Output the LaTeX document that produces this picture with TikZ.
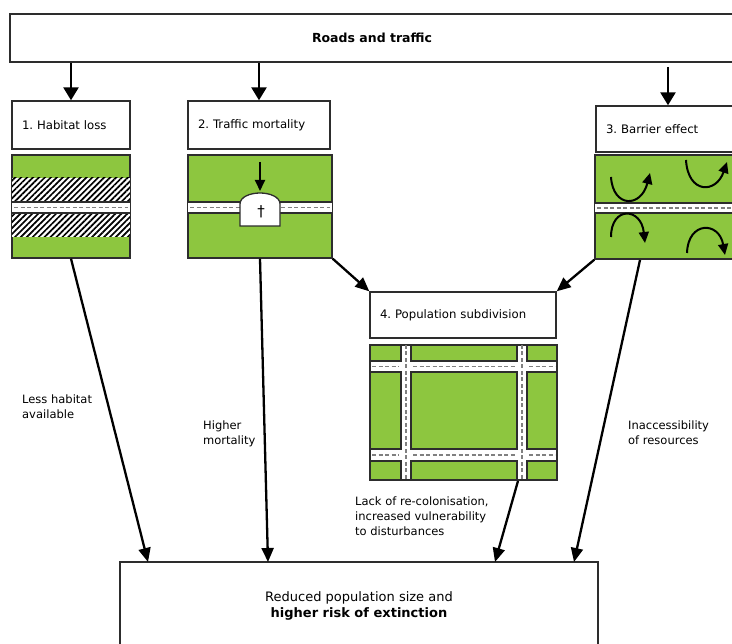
\documentclass[tikz,border=0pt]{standalone}
\usepackage{fontspec}
\setmainfont{DejaVu Sans}
\usetikzlibrary{arrows.meta,patterns.meta,positioning}
\frenchspacing

\definecolor{grass}{RGB}{141,198,63}
\definecolor{edge}{RGB}{45,45,45}

\tikzset{
  stage/.style={draw=edge, line width=1.4pt, fill=white, inner xsep=10pt, inner ysep=0pt,
    align=left, font=\fontsize{11.7}{14}\selectfont},
  panel/.style={draw=edge, line width=1.4pt, fill=grass, inner sep=0pt},
  frame/.style={draw=edge, line width=1.4pt},
  roadedge/.style={draw=edge, line width=1.3pt},
  midline/.style={draw=gray, line width=1.6pt, dash pattern=on 4pt off 2.5pt},
  bigarrow/.style={line width=2.6pt, -{Triangle[width=15pt,length=13pt]}},
  longarrow/.style={line width=2.3pt, -{Triangle[width=12pt,length=14pt]}},
  turn/.style={line width=2pt, -{Triangle[width=10pt,length=11pt]}},
  note/.style={anchor=north west, inner sep=0pt, align=left, font=\fontsize{11.5}{14.8}\selectfont}
}

\begin{document}
\begin{tikzpicture}[x=1pt, y=-1pt]
    \useasboundingbox (0,0) rectangle (732,644);
    \clip (0,0) rectangle (732,644);

    % Top and bottom boxes
    \node[draw=edge, line width=1.4pt, minimum width=724pt, minimum height=48pt,
      font=\fontsize{12.5}{14}\selectfont\bfseries] (roads) at (372,38) {Roads and traffic};
    \node[draw=edge, line width=1.4pt, minimum width=478pt, minimum height=88pt, align=center,
      font=\fontsize{13}{15.5}\selectfont] (result) at (359,606)
      {Reduced population size and\\ \textbf{higher risk of extinction}};

    % Effect boxes
    \node[stage, text width=98pt, minimum height=48pt] (habitat) at (71,125) {1. Habitat loss};
    \node[stage, text width=122pt, minimum height=48pt] (mortality) at (259,125) {2. Traffic mortality};
    \node[stage, text width=124pt, minimum height=46pt] (barrier) at (668,129) {3. Barrier effect};
    \node[stage, text width=166pt, minimum height=46pt] (subdiv) at (463,315) {4. Population subdivision};

    % Panels
    \node[panel, minimum width=118pt, minimum height=103pt] (p1) at (71,206.5) {};
    \node[panel, minimum width=144pt, minimum height=103pt] (p2) at (260,206.5) {};
    \node[panel, minimum width=150pt, minimum height=104pt] (p3) at (670,207) {};
    \node[panel, minimum width=187pt, minimum height=135pt, fill=white] (p4) at (463.5,412.5) {};

    % Panel 1: habitat loss
    \fill[white] (12,178) rectangle (130,237);
    \fill[pattern={Lines[angle=45,distance=4.2pt,line width=1.7pt]}] (12,178) rectangle (130,202);
    \fill[pattern={Lines[angle=45,distance=4.2pt,line width=1.7pt]}] (12,213) rectangle (130,237);
    \fill[white] (12,202) rectangle (130,213);
    \draw[roadedge] (12,202) -- (130,202) (12,213) -- (130,213);
    \draw[midline] (14,207.5) -- (128,207.5);
    \draw[frame] (p1.north west) rectangle (p1.south east);

    % Panel 2: traffic mortality
    \fill[white] (188,202) rectangle (332,213);
    \draw[roadedge] (188,202) -- (332,202) (188,213) -- (332,213);
    \draw[midline] (190,207.5) -- (330,207.5);
    \draw[roadedge, fill=white] (240,226) -- (240,204) .. controls (240,197) and (250,193) .. (260,193)
      .. controls (270,193) and (280,197) .. (280,204) -- (280,226) -- cycle;
    \node[font=\fontsize{15}{15}\selectfont, inner sep=0pt] (cross) at (261,212) {†};
    \coordinate (drop) at (260,162);
    \coordinate (tomb) at (260,191);
    \draw[turn, line width=1.8pt] (drop) -- (tomb);
    \draw[frame] (p2.north west) rectangle (p2.south east);

    % Panel 3: barrier effect
    \fill[white] (595,203) rectangle (745,213);
    \draw[roadedge] (595,203) -- (745,203) (595,213) -- (745,213);
    \draw[midline] (597,208) -- (745,208);
    \draw[turn] (611,177) .. controls (613,208) and (641,208) .. (650,173);
    \draw[turn] (686,160) .. controls (688,194) and (716,194) .. (727,162);
    \draw[turn] (611,237) .. controls (611,206) and (641,207) .. (645,243);
    \draw[turn] (687,253) .. controls (688,221) and (719,221) .. (725,255);
    \draw[frame] (p3.north west) rectangle (p3.south east);

    % Panel 4: population subdivision
    \foreach \xa/\xb in {370/401,411/517,527/557}
      \foreach \ya/\yb in {345/361,372/449,461/480}
        \draw[roadedge, fill=grass] (\xa,\ya) rectangle (\xb,\yb);
    \draw[midline] (406,345) -- (406,480) (522,345) -- (522,480);
    \foreach \yy in {366.5,455}
      \draw[midline] (372,\yy) -- (399,\yy) (413,\yy) -- (515,\yy) (529,\yy) -- (555,\yy);
    \draw[frame] (p4.north west) rectangle (p4.south east);

    % Arrows from roads and traffic
    \coordinate (drop3) at (668,67);
    \draw[bigarrow] (roads.south -| habitat.north) -- (habitat.north);
    \draw[bigarrow] (roads.south -| mortality.north) -- (mortality.north);
    \draw[bigarrow] (drop3) -- (barrier.north);

    % Arrows into subdivision
    \draw[longarrow] (p2.south east) -- (subdiv.north west);
    \draw[longarrow] (p3.south west) -- (subdiv.north east);

    % Arrows into result
    \coordinate (from4) at (518,481);
    \coordinate (from3) at (640,260);
    \coordinate (hit1) at (148,562);
    \coordinate (hit2) at (268,562);
    \coordinate (hit4) at (495,562);
    \coordinate (hit3) at (574,562);
    \draw[longarrow] (p1.south) -- (hit1);
    \draw[longarrow] (p2.south) -- (hit2);
    \draw[longarrow] (from4) -- (hit4);
    \draw[longarrow] (from3) -- (hit3);

    % Labels
    \node[note] (lesshab) at (22,395) {Less habitat\\available};
    \node[note] (highmort) at (203,421) {Higher\\mortality};
    \node[note] (inacc) at (628,421) {Inaccessibility\\of resources};
    \node[note] (lackrec) at (355,497) {Lack of re-colonisation,\\increased vulnerability\\to disturbances};
\end{tikzpicture}
\end{document}
